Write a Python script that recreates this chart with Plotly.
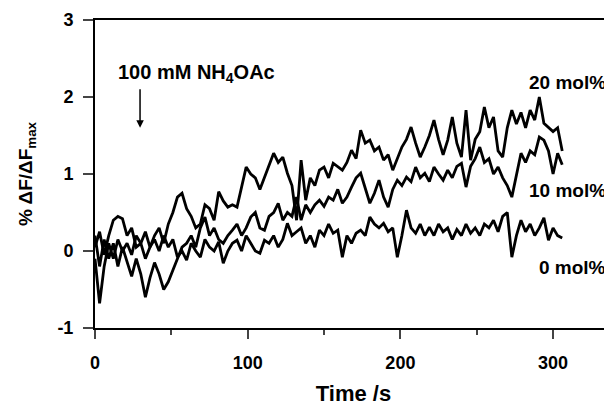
import plotly.graph_objects as go

# time axis, one sample every 3 s
time_s = list(range(0, 307, 3))

mol20 = [0.05, 0.25, -0.05, 0.2, 0.4, 0.45, 0.42, 0.2, 0.3, 0.05,
         0.1, 0.25, 0.05, 0.2, 0.3, 0.1, 0.35, 0.5, 0.7, 0.75,
         0.55, 0.45, 0.3, 0.35, 0.6, 0.55, 0.4, 0.77, 0.65, 0.57,
         0.6, 0.57, 0.83, 1.09, 1.0, 0.95, 0.8, 0.96, 1.1, 1.27,
         1.15, 1.22, 1.01, 0.85, 0.4, 1.18, 0.66, 0.95, 0.85, 1.05,
         1.09, 0.95, 1.14, 1.1, 1.05, 1.15, 1.31, 1.2, 1.57, 1.4,
         1.44, 1.3, 1.35, 1.18, 1.25, 1.05, 1.2, 1.35, 1.45, 1.61,
         1.4, 1.22, 1.35, 1.5, 1.7, 1.45, 1.25, 1.44, 1.74, 1.4,
         1.22, 1.83, 1.18, 1.45, 1.55, 1.87, 1.6, 1.74, 1.3, 1.22,
         1.6, 1.83, 1.65, 1.8, 1.6, 1.83, 1.7, 2.0, 1.66, 1.6,
         1.55, 1.6, 1.3]

mol10 = [0.2, -0.2, 0.15, -0.1, 0.1, -0.2, 0.05, -0.15, -0.33, -0.1,
         -0.3, -0.6, -0.35, -0.15, -0.3, -0.5, -0.4, -0.25, -0.1, 0.05,
         0.1, 0.2, 0.05, 0.3, 0.44, 0.2, 0.3, 0.15, 0.1, 0.2,
         0.27, 0.35, 0.2, 0.3, 0.44, 0.5, 0.3, 0.27, 0.45, 0.5,
         0.62, 0.4, 0.5, 0.45, 0.7, 0.4, 0.6, 0.5, 0.6, 0.66,
         0.58, 0.7, 0.66, 0.8, 0.62, 0.7, 0.83, 0.95, 1.01, 0.8,
         0.62, 0.75, 0.92, 0.7, 0.57, 0.8, 0.92, 0.85, 0.96, 0.9,
         1.09, 0.95, 1.01, 0.9, 1.09, 1.0, 0.92, 1.05, 0.95, 1.1,
         1.14, 0.83, 1.1, 1.2, 1.35, 1.15, 1.2, 1.0, 1.09, 0.95,
         0.85, 0.7, 1.0, 1.27, 1.15, 1.3, 1.25, 1.48, 1.44, 1.3,
         1.0, 1.27, 1.12]

mol0 = [-0.1, -0.68, -0.2, 0.1, -0.1, 0.15, 0.0, 0.1, -0.05, 0.2,
        0.1, -0.1, 0.05, 0.15, 0.0, 0.2, 0.05, 0.15, -0.08, 0.0,
        -0.12, 0.1, 0.0, -0.08, 0.15, 0.05, 0.0, 0.12, -0.16, 0.0,
        0.1, 0.14, 0.0, 0.2, 0.1, 0.0, -0.03, 0.14, 0.1, 0.2,
        0.05, 0.15, 0.36, 0.2, 0.25, 0.3, 0.1, 0.2, 0.05, 0.27,
        0.2, 0.35, 0.23, 0.27, -0.08, 0.2, 0.1, 0.23, 0.27, 0.2,
        0.44, 0.35, 0.3, 0.36, 0.25, 0.3, -0.08, 0.2, 0.53, 0.3,
        0.23, 0.35, 0.2, 0.31, 0.2, 0.35, 0.25, 0.3, 0.15, 0.28,
        0.2, 0.35, 0.23, 0.3, 0.2, 0.35, 0.3, 0.4, 0.25, 0.45,
        0.5, -0.08, 0.2, 0.4, 0.25, 0.35, 0.2, 0.3, 0.43, 0.14,
        0.3, 0.2, 0.17]

series = [('20 mol%', mol20, 2.19), ('10 mol%', mol10, 0.79), ('0 mol%', mol0, -0.21)]

y_ticks = [-1, 0, 1, 2, 3]
y_labels = ['-1', '0', '1', '2', '3']
x_ticks = [0, 100, 200, 300]

bold = dict(family='Liberation Sans, Arial, sans-serif', color='black', weight='bold')

fig = go.Figure()
for name, vals, label_y in series:
	fig.add_trace(go.Scatter(name=name, x=time_s, y=vals, mode='lines',
							 line=dict(color='black', width=2.8)))
	fig.add_annotation(x=336, y=label_y, text=name, showarrow=False,
					   xanchor='right', font=dict(size=19, **bold))

fig.add_annotation(x=14, y=2.3, text='100 mM NH<sub>4</sub>OAc', showarrow=False,
				   xanchor='left', font=dict(size=20, **bold))
fig.add_annotation(x=29.5, y=1.6, ax=29.5, ay=2.12, axref='x', ayref='y', text='',
				   showarrow=True, arrowhead=2, arrowsize=1, arrowwidth=1.5, arrowcolor='black')

# the page adds an 8 px body margin, so the plot box is shifted back by 8 px
fig.update_layout(
	width=612, height=406,
	margin=dict(l=87, r=8, t=12, b=86),
	paper_bgcolor='white', plot_bgcolor='white',
	showlegend=False,
	font=dict(size=18, **bold),
)

fig.update_xaxes(range=[0, 338.6], tickvals=x_ticks, automargin=False,
				 ticks='outside', ticklen=9, tickwidth=2, ticklabelstandoff=8,
				 minor=dict(dtick=50, ticks='outside', ticklen=5, tickwidth=2),
				 showline=True, linewidth=2, linecolor='black', mirror=True,
				 showgrid=False, zeroline=False,
				 title=dict(text='Time /s', font=dict(size=22, **bold), standoff=14))
fig.update_yaxes(range=[-1, 3], tickvals=y_ticks, ticktext=y_labels, automargin=False,
				 ticks='outside', ticklen=10, tickwidth=2, ticklabelstandoff=6,
				 showline=True, linewidth=2, linecolor='black',
				 showgrid=False, zeroline=False,
				 title=dict(text='% ΔF/ΔF<sub>max</sub>', font=dict(size=19, **bold), standoff=20))

fig.write_html("out.html")
